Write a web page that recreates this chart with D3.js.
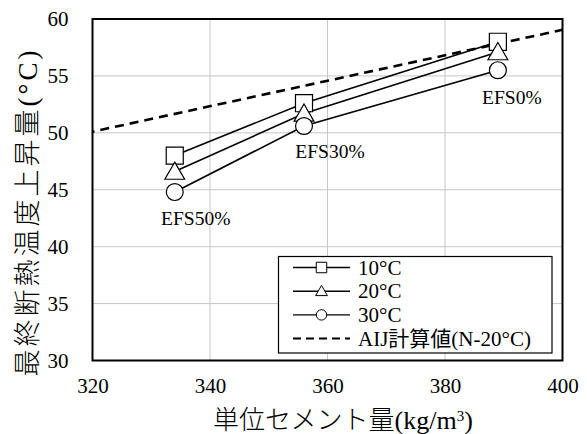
<!DOCTYPE html>
<html>
<head>
<meta charset="utf-8">
<script src="https://cdn.jsdelivr.net/npm/d3@7"></script>
<style>
  html, body { margin: 0; padding: 0; background: #fff; }
  svg { display: block; }
  text { font-family: "Times New Roman", "Liberation Serif", "DejaVu Serif", "Noto Sans CJK JP", serif; fill: #000; }
</style>
</head>
<body>
<script>
// Cement content (kg/m3) for each mix
const cement = [334, 356, 389];
const mixLabels = ["EFS50%", "EFS30%", "EFS0%"];
// Final adiabatic temperature rise (°C) per curing temperature
const rise10 = [48.0, 52.6, 58.0];
const rise20 = [46.6, 51.7, 57.1];
const rise30 = [44.8, 50.6, 55.5];
// AIJ estimate (N-20°C)
const aijX = [320, 400];
const aijY = [50.1, 59.05];
const xTicks = [320, 340, 360, 380, 400];
const yTicks = [30, 35, 40, 45, 50, 55, 60];
const seriesNames = ["10°C", "20°C", "30°C"];
const seriesShapes = ["square", "triangle", "circle"];
const aijName = "AIJ計算値(N-20°C)";

const W = 587, H = 434;
const m = { left: 92.5, right: 24.5, top: 19, bottom: 73.5 };
const serif = '"Times New Roman", "Liberation Serif", "DejaVu Serif", "Noto Sans CJK JP", serif';

const svg = d3.select("body").append("svg").attr("width", W).attr("height", H);

const x = d3.scaleLinear().domain([320, 400]).range([m.left, W - m.right]);
const y = d3.scaleLinear().domain([30, 60]).range([H - m.bottom, m.top]);

const plot = svg.append("g");

// grid
plot.append("g").selectAll("line").data(xTicks.slice(1, -1)).join("line")
  .attr("x1", d => x(d)).attr("x2", d => x(d))
  .attr("y1", y(30)).attr("y2", y(60))
  .attr("stroke", "#c6c6c6").attr("stroke-width", 1);
plot.append("g").selectAll("line").data(yTicks.slice(1, -1)).join("line")
  .attr("y1", d => y(d)).attr("y2", d => y(d))
  .attr("x1", x(320)).attr("x2", x(400))
  .attr("stroke", "#c6c6c6").attr("stroke-width", 1);

// axes tick labels
const xAxis = d3.axisBottom(x).tickValues(xTicks).tickSize(0).tickPadding(18);
svg.append("g").attr("transform", `translate(0,${y(30)})`).call(xAxis)
  .attr("font-family", serif).attr("font-size", 21)
  .call(g => g.select(".domain").remove());
const yAxis = d3.axisLeft(y).tickValues(yTicks).tickSize(0).tickPadding(24);
svg.append("g").attr("transform", `translate(${x(320)},0)`).call(yAxis)
  .attr("font-family", serif).attr("font-size", 21)
  .call(g => g.select(".domain").remove());

// clip for the AIJ line
svg.append("clipPath").attr("id", "clip").append("rect")
  .attr("x", x(320)).attr("y", y(60)).attr("width", x(400) - x(320)).attr("height", y(30) - y(60));

const line = d3.line().x(d => x(d[0])).y(d => y(d[1]));
plot.append("path")
  .attr("d", line(aijX.map((v, i) => [v, aijY[i]])))
  .attr("clip-path", "url(#clip)")
  .attr("fill", "none").attr("stroke", "#000").attr("stroke-width", 2.6)
  .attr("stroke-dasharray", "9,6").attr("stroke-dashoffset", -8);

const allSeries = [rise10, rise20, rise30];
allSeries.forEach(vals => {
  plot.append("path").attr("d", line(cement.map((c, i) => [c, vals[i]])))
    .attr("fill", "none").attr("stroke", "#000").attr("stroke-width", 1.6);
});

function symbolPath(shape, size) {
  const t = { square: d3.symbolSquare, triangle: d3.symbolTriangle, circle: d3.symbolCircle }[shape];
  return d3.symbol().type(t).size(size)();
}
const sizes = { square: 290, triangle: 170, circle: 225 };
allSeries.forEach((vals, si) => {
  const sh = seriesShapes[si];
  plot.append("g").selectAll("path").data(cement).join("path")
    .attr("transform", (c, i) => `translate(${x(c)},${y(vals[i]) + (sh === "triangle" ? 2 : 0)})`)
    .attr("d", symbolPath(sh, sizes[sh]))
    .attr("fill", "#fff").attr("stroke", "#000").attr("stroke-width", 1.2);
});

// mix labels, placed below each group of points
const labelPos = [
  { dx: 21, dy: 69.5 },
  { dx: 26, dy: 54.5 },
  { dx: 14, dy: 62.7 }
];
plot.append("g").selectAll("text").data(cement).join("text")
  .attr("x", (c, i) => x(c) + labelPos[i].dx)
  .attr("y", (c, i) => y(rise10[i]) + labelPos[i].dy)
  .attr("text-anchor", "middle")
  .style("font-size", "19.5px")
  .text((c, i) => mixLabels[i]);

// frame
svg.append("rect")
  .attr("x", x(320)).attr("y", y(60)).attr("width", x(400) - x(320)).attr("height", y(30) - y(60))
  .attr("fill", "none").attr("stroke", "#000").attr("stroke-width", 2);

// legend
const lg = svg.append("g");
lg.append("rect").attr("x", 278.5).attr("y", 256.5).attr("width", 273.5).attr("height", 96.5)
  .attr("fill", "#fff").attr("stroke", "#000").attr("stroke-width", 1.2);
const rowY = [267.5, 291.2, 314.9, 338.6];
const legendSizes = { square: 110, triangle: 60, circle: 85 };
seriesNames.forEach((name, i) => {
  lg.append("line").attr("x1", 293).attr("x2", 350).attr("y1", rowY[i]).attr("y2", rowY[i])
    .attr("stroke", "#000").attr("stroke-width", 1.4);
  lg.append("path").attr("transform", `translate(321.5,${rowY[i] + (seriesShapes[i] === "triangle" ? 1 : 0)})`)
    .attr("d", symbolPath(seriesShapes[i], legendSizes[seriesShapes[i]]))
    .attr("fill", "#fff").attr("stroke", "#000").attr("stroke-width", 1);
  lg.append("text").attr("x", 358).attr("y", rowY[i] + 7).style("font-size", "21px").text(name);
});
lg.append("line").attr("x1", 293).attr("x2", 350).attr("y1", rowY[3]).attr("y2", rowY[3])
  .attr("stroke", "#000").attr("stroke-width", 2).attr("stroke-dasharray", "8,5");
lg.append("text").attr("x", 358).attr("y", rowY[3] + 7).style("font-size", "21px").text(aijName);

// axis titles
svg.append("text").attr("x", 343).attr("y", 429).attr("text-anchor", "middle")
  .style("font-size", "26px").style("font-weight", 300)
  .html('単位セメント量(kg/m<tspan baseline-shift="super" style="font-size:15px">3</tspan>)');
svg.append("text").attr("transform", `translate(37,212) rotate(-90)`).attr("text-anchor", "middle")
  .style("font-size", "27px").style("font-weight", 300).style("letter-spacing", "3px")
  .text("最終断熱温度上昇量(°C)");
</script>
</body>
</html>
